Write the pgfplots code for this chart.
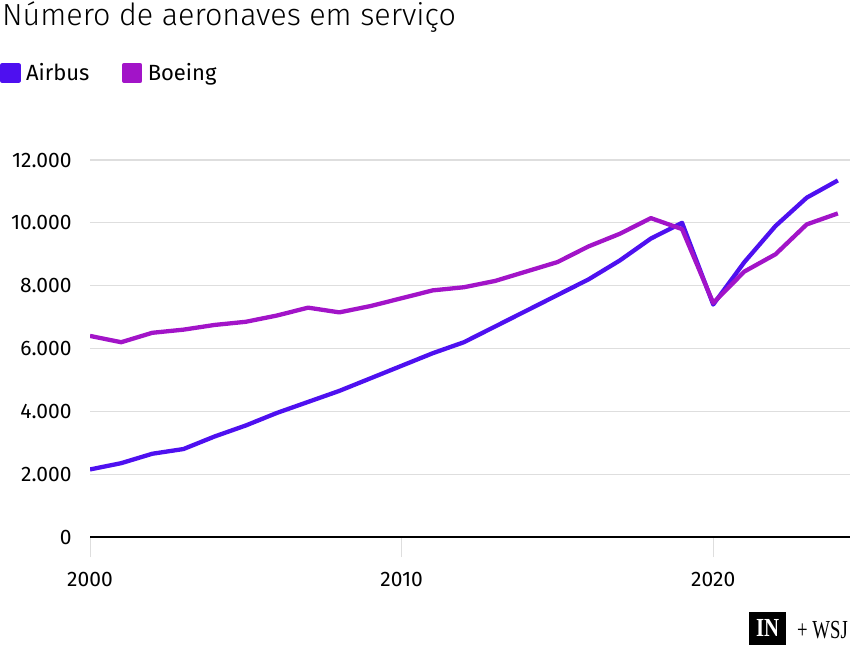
\documentclass[border=0pt]{standalone}
\usepackage{pgfplots}
\pgfplotsset{compat=1.18}
\usepackage{fontspec}
\setmainfont{Fira Sans}
\newfontfamily\titlefont{Fira Sans Light}
\newfontfamily\logofont{Liberation Serif}
\definecolor{airbus}{RGB}{78,16,240}
\definecolor{boeing}{RGB}{162,20,200}
\definecolor{gridc}{RGB}{222,222,222}
\begin{document}
\begin{tikzpicture}[x=1pt,y=1pt]
\useasboundingbox (0,0) rectangle (850,648);
\node[anchor=base west, inner sep=0, font=\titlefont\fontsize{30.5}{34}\selectfont] at (2,622) {Número de aeronaves em serviço};
\begin{axis}[
  at={(90pt,111pt)}, anchor=south west,
  scale only axis, width=760pt, height=377pt,
  xmin=2000, xmax=2024.39, ymin=0, ymax=12000,
  axis line style={draw=none},
  xtick={2000,2010,2020}, xtick pos=lower, ytick pos=left,
  ytick={2000,4000,6000,8000,10000,12000},
  scaled y ticks=false,
  extra y ticks={0},
  extra y tick style={grid=major, major grid style={black, line width=2.6pt}, ytick style={draw=none}},
  ymajorgrids, major grid style={gridc, line width=1.2pt},
  ytick style={draw=none},
  xtick style={draw=gridc, line width=0.7pt},
  tick align=outside, major tick length=20pt,
  yticklabel style={font=\fontsize{21}{24}\selectfont, xshift=5pt},
  xticklabel style={font=\fontsize{21}{24}\selectfont, /pgf/number format/1000 sep={}, yshift=-12pt},
  /pgf/number format/.cd, 1000 sep={.}, assume math mode=true,
  /pgfplots/.cd,
  legend columns=2,
  legend style={at={(-0.1184,1.2308)}, anchor=west, draw=none, fill=none, inner sep=0pt,
    font=\fontsize{22}{24}\selectfont, nodes={inner xsep=5.5pt},
    /tikz/every even column/.append style={column sep=27pt}},
  legend image code/.code={\fill[#1] (0pt,-8pt) rectangle (16pt,8pt);},
]
\addplot[airbus, line width=4.3pt, line join=round] coordinates {
(2000,2150)(2001,2350)(2002,2650)(2003,2800)(2004,3200)(2005,3550)(2006,3950)(2007,4300)
(2008,4650)(2009,5050)(2010,5450)(2011,5850)(2012,6200)(2013,6700)(2014,7200)(2015,7700)
(2016,8200)(2017,8800)(2018,9500)(2019,10000)(2020,7400)(2021,8750)(2022,9900)(2023,10800)(2024,11350)};
\addlegendentry{Airbus}
\addplot[boeing, line width=4.3pt, line join=round] coordinates {
(2000,6400)(2001,6200)(2002,6500)(2003,6600)(2004,6750)(2005,6850)(2006,7050)(2007,7300)
(2008,7150)(2009,7350)(2010,7600)(2011,7850)(2012,7950)(2013,8150)(2014,8450)(2015,8750)
(2016,9250)(2017,9650)(2018,10150)(2019,9800)(2020,7450)(2021,8450)(2022,9000)(2023,9950)(2024,10300)};
\addlegendentry{Boeing}
\end{axis}
\node[fill=black, text=white, anchor=south west, inner sep=0pt, minimum width=37pt, minimum height=33pt] at (749,3) {\logofont\fontsize{26}{28}\selectfont\bfseries\scalebox{0.8}[1]{IN}};
\node[anchor=base east, inner sep=0, font=\logofont\fontsize{26}{28}\selectfont] at (848,10) {\scalebox{0.72}[1]{+\ WSJ}};
\end{tikzpicture}
\end{document}
